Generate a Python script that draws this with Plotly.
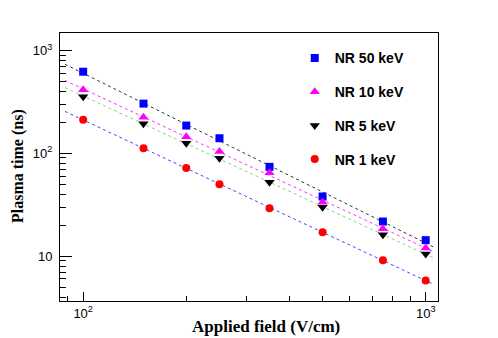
import numpy as np
import plotly.graph_objects as go

# Data
field = [100, 150, 200, 250, 350, 500, 750, 1000]  # V/cm
nr50 = [621, 304, 186, 140, 73.8, 38.0, 21.7, 14.3]
nr10 = [415, 224, 145, 104, 64.5, 33.4, 18.5, 12.0]
nr5 = [355, 194, 125, 89.6, 52.3, 29.9, 16.1, 10.5]
nr1 = [212, 112, 72, 50, 29.2, 17.1, 9.1, 5.8]

series_names = ["NR 50 keV", "NR 10 keV", "NR 5 keV", "NR 1 keV"]
series_vals = [nr50, nr10, nr5, nr1]
marker_colors = ["#0000ff", "#ff00ff", "#000000", "#ff0000"]
marker_symbols = ["square", "triangle-up", "triangle-down", "circle"]
marker_sizes = [8, 9, 9, 8]
fit_colors = ["#333333", "#ff33ff", "#77dd77", "#4444ff"]
fit_range = [88.5, 1057]

x_ticks = [100, 1000]
x_ticktext = ["10<sup>2</sup>", "10<sup>3</sup>"]
x_minor = [90, 200, 300, 400, 500, 600, 700, 800, 900]
y_ticks = [10, 100, 1000]
y_ticktext = ["10", "10<sup>2</sup>", "10<sup>3</sup>"]
y_minor = [4, 5, 6, 7, 8, 9, 20, 30, 40, 50, 60, 70, 80, 90,
           200, 300, 400, 500, 600, 700, 800, 900]

fig = go.Figure()

# Power-law fit lines (fitted to the data in log-log space)
for vals, col in zip(series_vals, fit_colors):
    b, a = np.polyfit(np.log10(field), np.log10(vals), 1)
    xs = np.array(fit_range)
    ys = 10 ** (a + b * np.log10(xs))
    fig.add_trace(go.Scatter(x=xs, y=ys, mode="lines", showlegend=False,
                             line=dict(color=col, width=1, dash="3px,3px"),
                             hoverinfo="skip"))

for i, (name, vals) in enumerate(zip(series_names, series_vals)):
    fig.add_trace(go.Scatter(
        x=field, y=vals, mode="markers", name=name, legendgroup=f"g{i}",
        marker=dict(symbol=marker_symbols[i], color=marker_colors[i],
                    size=marker_sizes[i], line=dict(width=0))))

# The page body has an 8px margin, so the figure is made 8px smaller
fig.update_layout(
    width=490, height=330,
    margin=dict(l=52, r=60, t=25, b=37),
    paper_bgcolor="white", plot_bgcolor="white",
    font=dict(family="Liberation Sans, Arial, sans-serif", size=13, color="black"),
    showlegend=True,
    legend=dict(x=0.621, y=0.965, xanchor="left", yanchor="top",
                bgcolor="rgba(0,0,0,0)", traceorder="grouped", tracegroupgap=12.5,
                font=dict(family="Liberation Sans, Arial, sans-serif", size=14, color="black",
                          weight="bold"),
                itemwidth=30),
)

fig.update_xaxes(
    type="log", range=[1.9324, 3.0359],
    showline=True, mirror=True, linecolor="black", linewidth=1,
    showgrid=False, zeroline=False,
    tickmode="array", tickvals=x_ticks, ticktext=x_ticktext,
    ticks="inside", ticklen=9, tickwidth=1, tickcolor="black",
    minor=dict(tickmode="array", tickvals=x_minor, ticks="inside", ticklen=5,
               tickwidth=1, tickcolor="black", showgrid=False),
    tickfont=dict(size=13),
)
fig.update_yaxes(
    type="log", range=[0.5636, 3.1696],
    showline=True, mirror=True, linecolor="black", linewidth=1,
    showgrid=False, zeroline=False,
    tickmode="array", tickvals=y_ticks, ticktext=y_ticktext,
    ticks="inside", ticklen=12, tickwidth=1, tickcolor="black",
    minor=dict(tickmode="array", tickvals=y_minor, ticks="inside", ticklen=6,
               tickwidth=1, tickcolor="black", showgrid=False),
    tickfont=dict(size=13), ticklabelstandoff=4,
)

# Axis titles (ROOT-style, bold serif)
fig.add_annotation(text="<b>Applied field (V/cm)</b>", xref="paper", yref="paper",
                   x=(266 - 60) / 378, y=-(326 - 301) / 268, xanchor="center", yanchor="middle",
                   showarrow=False,
                   font=dict(family="Liberation Serif, Times New Roman, serif", size=17, color="black"))
fig.add_annotation(text="<b>Plasma time (ns)</b>", xref="paper", yref="paper",
                   x=-(60 - 18) / 378, y=1 - (166 - 33) / 268, xanchor="center", yanchor="middle",
                   textangle=-90, showarrow=False,
                   font=dict(family="Liberation Serif, Times New Roman, serif", size=16, color="black"))

fig.write_html("out.html")
